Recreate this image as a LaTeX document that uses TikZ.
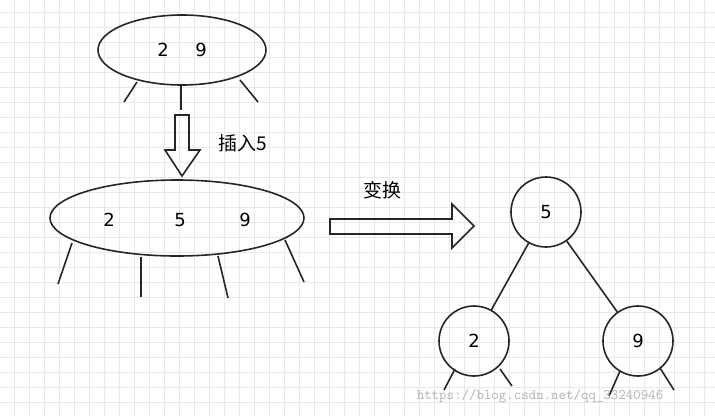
\documentclass[tikz,border=0pt]{standalone}
\usepackage{fontspec}
\setmainfont{DejaVu Sans}
\newfontfamily\cjk{Noto Sans CJK SC}
\usetikzlibrary{shapes.geometric}
\begin{document}
\begin{tikzpicture}[x=1pt,y=-1pt,
  ln/.style={line width=1.6pt,draw=black!85},
  num/.style={font=\fontsize{18}{18}\selectfont},
  cn/.style={font=\cjk\fontsize{19}{19}\selectfont}]
\useasboundingbox (0,0) rectangle (715,416);
\fill[white] (0,0) rectangle (715,416);
\foreach \i in {0,...,48} {\draw[black!9,line width=0.8pt] (14+15*\i,0) -- (14+15*\i,416);}
\foreach \j in {0,...,27} {\draw[black!9,line width=0.8pt] (0,12+15*\j) -- (715,12+15*\j);}
\begin{scope}[ln]
\node[draw,ellipse,minimum width=168,minimum height=70,line width=1.6pt] (top) at (182,50) {};
\node[num] (t2) at (163,50) {2};
\node[num] (t9) at (201,50) {9};
\draw (137,82) -- (124,102);
\draw (181,86) -- (181,110);
\draw (240,80) -- (258,102);
\draw (175,115) -- (189,115) -- (189,150) -- (200,150) -- (182,176) -- (165,150) -- (175,150) -- cycle;
\node[cn] (ins) at (243,143) {插入5};
\node[draw,ellipse,minimum width=254,minimum height=76,line width=1.6pt] (big) at (177,218) {};
\node[num] (b2) at (109,220) {2};
\node[num] (b5) at (180,220) {5};
\node[num] (b9) at (245,220) {9};
\draw (72,243) -- (58,284);
\draw (141,257) -- (141,297);
\draw (218,256) -- (228,298);
\draw (285,240) -- (304,282);
\draw (330,219) -- (452,219) -- (452,204) -- (474,226) -- (452,248) -- (452,234) -- (330,234) -- cycle;
\node[cn] (tr) at (382,190) {变换};
\node[draw,circle,minimum size=70,line width=1.6pt,num] (c5) at (546,212) {5};
\node[draw,circle,minimum size=70,line width=1.6pt,num] (c2) at (474,341) {2};
\node[draw,circle,minimum size=70,line width=1.6pt,num] (c9) at (638,341) {9};
\draw (c5) -- (c2);
\draw (c5) -- (c9);
\draw (455,369) -- (444,390);
\draw (500,369) -- (512,386);
\draw (620,371) -- (609,396);
\draw (660,368) -- (674,390);
\end{scope}
\node[text=black!30,font=\ttfamily\fontsize{14.5}{14.5}\selectfont] (wm) at (540,396) {https://blog.csdn.net/qq\_33240946};
\end{tikzpicture}
\end{document}
